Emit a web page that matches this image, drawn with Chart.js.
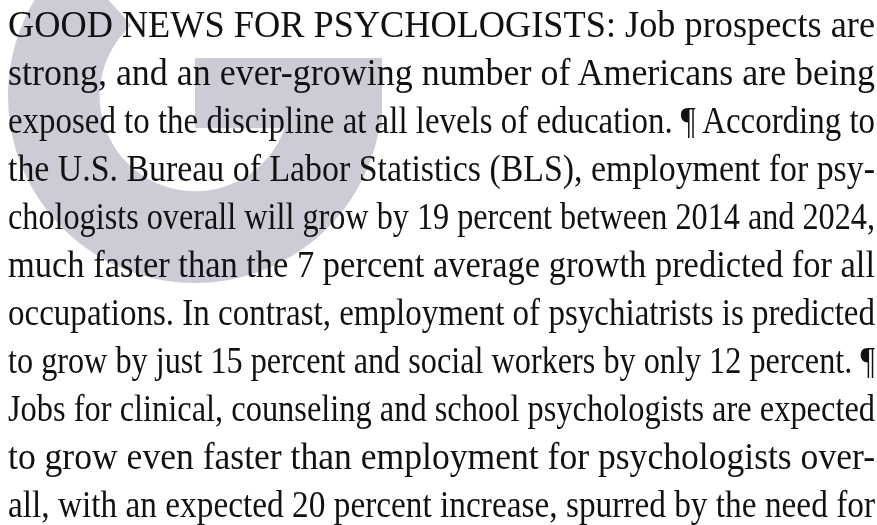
<!DOCTYPE html>
<html>
<head>
<meta charset="utf-8">
<script src="https://cdn.jsdelivr.net/npm/chart.js@4.4.1/dist/chart.umd.min.js"></script>
<style>
  html, body {
    margin: 0;
    padding: 0;
    width: 877px;
    height: 525px;
    overflow: hidden;
    background: #ffffff;
  }
  #capWrap {
    position: absolute;
    left: 8px;
    top: -91px;
    width: 374px;
    height: 374px;
    z-index: 0;
  }
  #text {
    position: absolute;
    left: 8px;
    top: 1px;
    width: 867px;
    z-index: 1;
    font-family: "Liberation Serif", "Times New Roman", serif;
    font-size: 37px;
    line-height: 48px;
    color: #111111;
  }
  .line {
    display: block;
    white-space: pre;
    transform-origin: 0 0;
  }
</style>
</head>
<body>
<div id="capWrap"><canvas id="capChart" width="374" height="374"></canvas></div>
<div id="text"></div>

<script>
// paragraph lines, as they break in the picture
const lines = [
  "GOOD NEWS FOR PSYCHOLOGISTS: Job prospects are",
  "strong, and an ever-growing number of Americans are being",
  "exposed to the discipline at all levels of education. \u00B6 According to",
  "the U.S. Bureau of Labor Statistics (BLS), employment for psy-",
  "chologists overall will grow by 19 percent between 2014 and 2024,",
  "much faster than the 7 percent average growth predicted for all",
  "occupations. In contrast, employment of psychiatrists is predicted",
  "to grow by just 15 percent and social workers by only 12 percent. \u00B6",
  "Jobs for clinical, counseling and school psychologists are expected",
  "to grow even faster than employment for psychologists over-",
  "all, with an expected 20 percent increase, spurred by the need for",
];

// big "G" drop cap: bowl drawn as a ring, open part left transparent
const capLabels = ["bowl", "opening"];
const capArc = [228, 132];
const capColors = ["#cbccd5", "rgba(0,0,0,0)"];

const textBox = document.getElementById("text");
const boxWidth = 867;

lines.forEach((str) => {
  const el = document.createElement("span");
  el.className = "line";
  el.textContent = str;
  textBox.appendChild(el);

  // natural width of the line, then stretch or squeeze to the column
  const probe = document.createElement("span");
  probe.style.whiteSpace = "pre";
  probe.textContent = str;
  el.textContent = "";
  el.appendChild(probe);
  const natural = probe.getBoundingClientRect().width;
  el.textContent = str;

  const gaps = str.split(" ").length - 1;
  if (natural < boxWidth && gaps > 0) {
    el.style.wordSpacing = (boxWidth - natural) / gaps + "px";
  } else if (natural > boxWidth) {
    el.style.transform = "scaleX(" + boxWidth / natural + ")";
  }
});

// crossbar of the G, sized from the ring
const crossbar = {
  id: "crossbar",
  afterDatasetsDraw(chart) {
    const arc = chart.getDatasetMeta(0).data[0];
    const r = arc.outerRadius;
    const c = chart.ctx;
    c.save();
    c.fillStyle = capColors[0];
    c.fillRect(arc.x, arc.y - r * 0.203, r, r * 0.374);
    c.restore();
  },
};

const capCtx = document.getElementById("capChart").getContext("2d");

new Chart(capCtx, {
  type: "doughnut",
  data: {
    labels: capLabels,
    datasets: [
      {
        data: capArc,
        backgroundColor: capColors,
        borderWidth: 0,
        hoverOffset: 0,
      },
    ],
  },
  options: {
    responsive: false,
    animation: false,
    rotation: 90, // start at 3 o'clock, run clockwise round the bottom
    cutout: "51%",
    layout: { padding: 0 },
    events: [],
    plugins: {
      legend: { display: false },
      tooltip: { enabled: false },
    },
  },
  plugins: [crossbar],
});
</script>
</body>
</html>
